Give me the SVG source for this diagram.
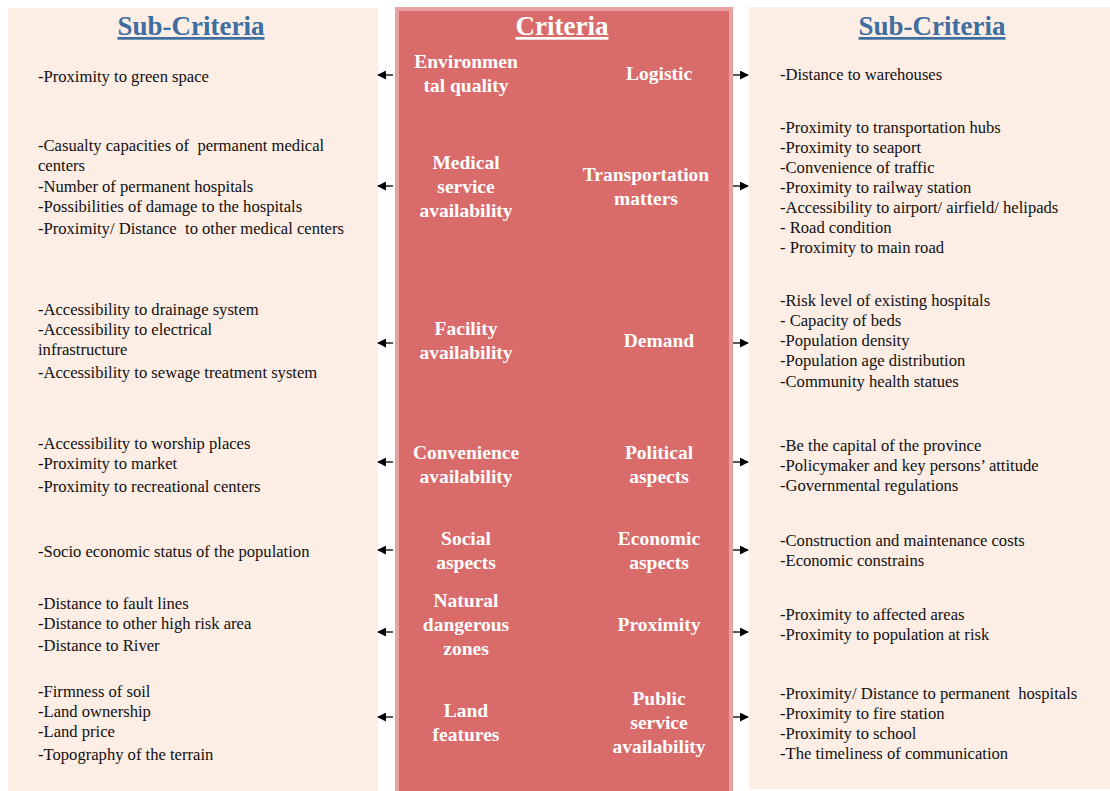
<svg xmlns="http://www.w3.org/2000/svg" width="1110" height="791" viewBox="0 0 1110 791">
<style>
.panel{fill:#FCEDE5;}
.hdr{font-family:"Liberation Serif","Times New Roman",serif;font-weight:bold;font-size:27px;text-anchor:middle;text-decoration:underline;}
.sub{font-family:"Liberation Serif","Times New Roman",serif;font-size:16.6px;fill:#111;}
.crit{font-family:"Liberation Serif","Times New Roman",serif;font-weight:bold;font-size:19.5px;fill:#fff;text-anchor:middle;}
.conn{stroke:#000;stroke-width:1.3;fill:none;}
</style>
<defs>
<marker id="ah" viewBox="0 0 10 10" refX="9" refY="5" markerWidth="9" markerHeight="9" markerUnits="userSpaceOnUse" orient="auto">
<path d="M0,0 L10,5 L0,10 z" fill="#000"/>
</marker>
</defs>
<rect width="1110" height="791" fill="#fff"/>
<g id="left-panel">
<rect class="panel" x="8" y="8" width="370" height="783"/>
<text class="hdr" x="191" y="35" fill="#3E6E9F">Sub-Criteria</text>
</g>
<g id="right-panel">
<rect class="panel" x="749" y="7" width="361" height="782"/>
<text class="hdr" x="932" y="35" fill="#3E6E9F">Sub-Criteria</text>
</g>
<g id="criteria-box">
<rect x="395" y="7" width="338" height="784" fill="#E9A2A2"/>
<rect x="399" y="11" width="330" height="780" fill="#D96B6B"/>
<text class="hdr" x="562" y="35" fill="#fff">Criteria</text>
</g>
<g id="connectors">
<line class="conn" x1="393" y1="75" x2="378" y2="75" marker-end="url(#ah)"/>
<line class="conn" x1="393" y1="186" x2="378" y2="186" marker-end="url(#ah)"/>
<line class="conn" x1="393" y1="343" x2="378" y2="343" marker-end="url(#ah)"/>
<line class="conn" x1="393" y1="462" x2="378" y2="462" marker-end="url(#ah)"/>
<line class="conn" x1="393" y1="550" x2="378" y2="550" marker-end="url(#ah)"/>
<line class="conn" x1="393" y1="632" x2="378" y2="632" marker-end="url(#ah)"/>
<line class="conn" x1="393" y1="717" x2="378" y2="717" marker-end="url(#ah)"/>
<line class="conn" x1="733" y1="75" x2="748" y2="75" marker-end="url(#ah)"/>
<line class="conn" x1="733" y1="186" x2="748" y2="186" marker-end="url(#ah)"/>
<line class="conn" x1="733" y1="343" x2="748" y2="343" marker-end="url(#ah)"/>
<line class="conn" x1="733" y1="462" x2="748" y2="462" marker-end="url(#ah)"/>
<line class="conn" x1="733" y1="550" x2="748" y2="550" marker-end="url(#ah)"/>
<line class="conn" x1="733" y1="632" x2="748" y2="632" marker-end="url(#ah)"/>
<line class="conn" x1="733" y1="717" x2="748" y2="717" marker-end="url(#ah)"/>
</g>
<g id="c-environmental"><text class="crit" x="466" y="68">Environmen</text><text class="crit" x="466" y="92">tal quality</text></g>
<g id="c-logistic"><text class="crit" x="659" y="80">Logistic</text></g>
<g id="c-medical"><text class="crit" x="466" y="169">Medical</text><text class="crit" x="466" y="193">service</text><text class="crit" x="466" y="217">availability</text></g>
<g id="c-transport"><text class="crit" x="646" y="181">Transportation</text><text class="crit" x="646" y="205">matters</text></g>
<g id="c-facility"><text class="crit" x="466" y="335">Facility</text><text class="crit" x="466" y="359">availability</text></g>
<g id="c-demand"><text class="crit" x="659" y="347">Demand</text></g>
<g id="c-convenience"><text class="crit" x="466" y="459">Convenience</text><text class="crit" x="466" y="483">availability</text></g>
<g id="c-political"><text class="crit" x="659" y="459">Political</text><text class="crit" x="659" y="483">aspects</text></g>
<g id="c-social"><text class="crit" x="466" y="545">Social</text><text class="crit" x="466" y="569">aspects</text></g>
<g id="c-economic"><text class="crit" x="659" y="545">Economic</text><text class="crit" x="659" y="569">aspects</text></g>
<g id="c-natural"><text class="crit" x="466" y="607">Natural</text><text class="crit" x="466" y="631">dangerous</text><text class="crit" x="466" y="655">zones</text></g>
<g id="c-proximity"><text class="crit" x="659" y="631">Proximity</text></g>
<g id="c-land"><text class="crit" x="466" y="717">Land</text><text class="crit" x="466" y="741">features</text></g>
<g id="c-public"><text class="crit" x="659" y="705">Public</text><text class="crit" x="659" y="729">service</text><text class="crit" x="659" y="753">availability</text></g>
<g id="s-environmental"><text class="sub" x="38" y="82">-Proximity to green space</text></g>
<g id="s-medical">
<text class="sub" x="38" y="151" xml:space="preserve">-Casualty capacities of  permanent medical</text>
<text class="sub" x="38" y="171">centers</text>
<text class="sub" x="38" y="192">-Number of permanent hospitals</text>
<text class="sub" x="38" y="212">-Possibilities of damage to the hospitals</text>
<text class="sub" x="38" y="234" xml:space="preserve">-Proximity/ Distance  to other medical centers</text>
</g>
<g id="s-facility">
<text class="sub" x="38" y="315">-Accessibility to drainage system</text>
<text class="sub" x="38" y="335">-Accessibility to electrical</text>
<text class="sub" x="38" y="355">infrastructure</text>
<text class="sub" x="38" y="378">-Accessibility to sewage treatment system</text>
</g>
<g id="s-convenience">
<text class="sub" x="38" y="449">-Accessibility to worship places</text>
<text class="sub" x="38" y="469">-Proximity to market</text>
<text class="sub" x="38" y="492">-Proximity to recreational centers</text>
</g>
<g id="s-social"><text class="sub" x="38" y="557">-Socio economic status of the population</text></g>
<g id="s-natural">
<text class="sub" x="38" y="609">-Distance to fault lines</text>
<text class="sub" x="38" y="629">-Distance to other high risk area</text>
<text class="sub" x="38" y="651">-Distance to River</text>
</g>
<g id="s-land">
<text class="sub" x="38" y="697">-Firmness of soil</text>
<text class="sub" x="38" y="717">-Land ownership</text>
<text class="sub" x="38" y="737">-Land price</text>
<text class="sub" x="38" y="760">-Topography of the terrain</text>
</g>
<g id="s-logistic"><text class="sub" x="780" y="80">-Distance to warehouses</text></g>
<g id="s-transport">
<text class="sub" x="780" y="133">-Proximity to transportation hubs</text>
<text class="sub" x="780" y="153">-Proximity to seaport</text>
<text class="sub" x="780" y="173">-Convenience of traffic</text>
<text class="sub" x="780" y="193">-Proximity to railway station</text>
<text class="sub" x="780" y="213">-Accessibility to airport/ airfield/ helipads</text>
<text class="sub" x="780" y="233">- Road condition</text>
<text class="sub" x="780" y="253">- Proximity to main road</text>
</g>
<g id="s-demand">
<text class="sub" x="780" y="306">-Risk level of existing hospitals</text>
<text class="sub" x="780" y="326">- Capacity of beds</text>
<text class="sub" x="780" y="346">-Population density</text>
<text class="sub" x="780" y="366">-Population age distribution</text>
<text class="sub" x="780" y="387">-Community health statues</text>
</g>
<g id="s-political">
<text class="sub" x="780" y="451">-Be the capital of the province</text>
<text class="sub" x="780" y="471">-Policymaker and key persons’ attitude</text>
<text class="sub" x="780" y="491">-Governmental regulations</text>
</g>
<g id="s-economic">
<text class="sub" x="780" y="546">-Construction and maintenance costs</text>
<text class="sub" x="780" y="566">-Economic constrains</text>
</g>
<g id="s-proximity">
<text class="sub" x="780" y="620">-Proximity to affected areas</text>
<text class="sub" x="780" y="640">-Proximity to population at risk</text>
</g>
<g id="s-public">
<text class="sub" x="780" y="699" xml:space="preserve">-Proximity/ Distance to permanent  hospitals</text>
<text class="sub" x="780" y="719">-Proximity to fire station</text>
<text class="sub" x="780" y="739">-Proximity to school</text>
<text class="sub" x="780" y="759">-The timeliness of communication</text>
</g>
</svg>
